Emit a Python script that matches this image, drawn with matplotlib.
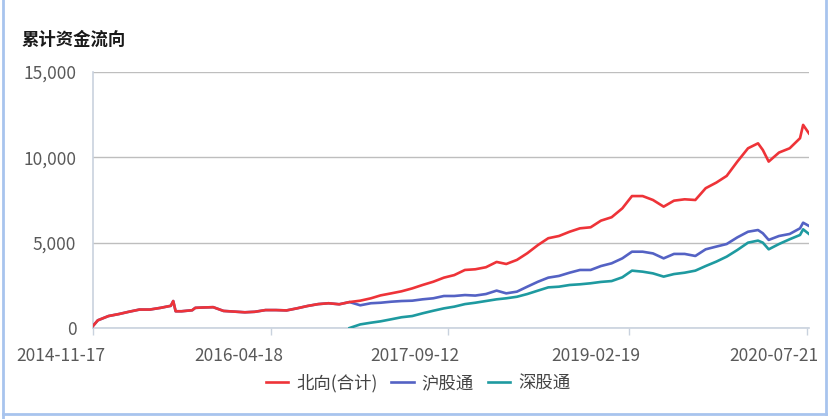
import numpy as np
import pandas as pd
import matplotlib
matplotlib.use("Agg")
import matplotlib.pyplot as plt
import matplotlib.transforms as mtransforms
from matplotlib.lines import Line2D

plt.rcParams['font.family'] = ['Noto Sans CJK SC', 'DejaVu Sans']

# 日期（月度取样，外加几个拐点）
dates = [
    "2014-11-17", "2014-12-01", "2015-01-01", "2015-02-01", "2015-03-01", "2015-04-01",
    "2015-05-01", "2015-06-01", "2015-07-01", "2015-07-08", "2015-07-15", "2015-08-01",
    "2015-09-01", "2015-09-10", "2015-10-01", "2015-11-01", "2015-12-01", "2016-01-01",
    "2016-02-01", "2016-03-01", "2016-04-01", "2016-05-01", "2016-06-01", "2016-07-01",
    "2016-08-01", "2016-09-01", "2016-10-01", "2016-11-01", "2016-12-01", "2017-01-01",
    "2017-02-01", "2017-03-01", "2017-04-01", "2017-05-01", "2017-06-01", "2017-07-01",
    "2017-08-01", "2017-09-01", "2017-10-01", "2017-11-01", "2017-12-01", "2018-01-01",
    "2018-02-01", "2018-03-01", "2018-04-01", "2018-05-01", "2018-06-01", "2018-07-01",
    "2018-08-01", "2018-09-01", "2018-10-01", "2018-11-01", "2018-12-01", "2019-01-01",
    "2019-02-01", "2019-03-01", "2019-04-01", "2019-05-01", "2019-06-01", "2019-07-01",
    "2019-08-01", "2019-09-01", "2019-10-01", "2019-11-01", "2019-12-01", "2020-01-01",
    "2020-02-01", "2020-03-01", "2020-03-15", "2020-04-01", "2020-05-01", "2020-06-01",
    "2020-07-01", "2020-07-10", "2020-07-27",
]

north = [
    120, 450, 700, 820, 950, 1080,
    1080, 1180, 1300, 1580, 980, 980,
    1040, 1180, 1200, 1220, 1000, 960,
    920, 950, 1050, 1050, 1030, 1150,
    1290, 1400, 1450, 1390, 1520, 1600,
    1740, 1910, 2030, 2150, 2320, 2520,
    2710, 2950, 3100, 3400, 3440, 3560,
    3870, 3750, 3990, 4380, 4860, 5260,
    5390, 5640, 5840, 5900, 6290, 6490,
    7010, 7730, 7730, 7500, 7110, 7460,
    7540, 7500, 8190, 8520, 8910, 9750,
    10530, 10820, 10430, 9750, 10280, 10530,
    11120, 11900, 11400,
]

sh = [
    120, 450, 700, 820, 950, 1080,
    1080, 1180, 1300, 1580, 980, 980,
    1040, 1180, 1200, 1220, 1000, 960,
    920, 950, 1050, 1050, 1030, 1150,
    1290, 1400, 1450, 1390, 1520, 1330,
    1450, 1480, 1540, 1580, 1600, 1680,
    1740, 1875, 1875, 1930, 1900, 1990,
    2190, 2030, 2130, 2420, 2710, 2950,
    3050, 3240, 3400, 3400, 3630, 3790,
    4080, 4470, 4470, 4370, 4080, 4340,
    4340, 4220, 4610, 4770, 4920, 5310,
    5640, 5740, 5550, 5160, 5390, 5510,
    5840, 6170, 5980,
]

sz = [
    None, None, None, None, None, None,
    None, None, None, None, None, None,
    None, None, None, None, None, None,
    None, None, None, None, None, None,
    None, None, None, None, 0, 210,
    310, 390, 510, 630, 700, 860,
    1010, 1150, 1250, 1400, 1480, 1580,
    1680, 1740, 1830, 1990, 2190, 2380,
    2420, 2520, 2560, 2620, 2700, 2750,
    2970, 3360, 3300, 3200, 3010, 3160,
    3240, 3360, 3630, 3890, 4180, 4570,
    5000, 5120, 5000, 4610, 4920, 5200,
    5450, 5780, 5510,
]

tick_labels = ["2014-11-17", "2016-04-18", "2017-09-12", "2019-02-19", "2020-07-21"]
series_names = ["北向(合计)", "沪股通", "深股通"]
colors = ["#EE3338", "#5462C4", "#1E9AA0"]

x = pd.to_datetime(dates)
ys = [np.array(north, dtype=float),
      np.array(sh, dtype=float),
      np.array([np.nan if v is None else v for v in sz], dtype=float)]

fig = plt.figure(figsize=(8.31, 4.19), dpi=100)
ax = fig.add_axes([0.1119, 0.2172, 0.8616, 0.611])

# 深股通先画，红线在最上层
for i in [2, 1, 0]:
    ax.plot(x, ys[i], color=colors[i], lw=1.9, label=series_names[i], zorder=3 + (2 - i))

ax.set_ylim(0, 15000)
ax.set_yticks([0, 5000, 10000, 15000])
ax.yaxis.set_major_formatter(matplotlib.ticker.FuncFormatter(lambda v, p: f"{int(v):,}"))
ax.set_xlim(pd.Timestamp("2014-11-17"), pd.Timestamp("2020-07-27"))
ax.set_xticks(pd.to_datetime(tick_labels))
ax.set_xticklabels(tick_labels)

ax.grid(axis='y', color='#BEBEBE', lw=1)
ax.set_axisbelow(True)
for s in ['top', 'right']:
    ax.spines[s].set_visible(False)
ax.spines['left'].set_color('#C9D2DE')
ax.spines['bottom'].set_color('#C9D2DE')
ax.spines['left'].set_linewidth(1.2)
ax.spines['bottom'].set_linewidth(1.2)

ax.tick_params(axis='y', length=0, pad=12, labelsize=12.5, labelcolor='#595959')
ax.tick_params(axis='x', length=5, width=1, color='#C9D2DE', pad=9,
               labelsize=12.5, labelcolor='#595959')

# 日期标签整体向左偏移（右端略超过刻度）
shift = mtransforms.ScaledTranslation(12 / 100, 0, fig.dpi_scale_trans)
for lbl in ax.get_xticklabels():
    lbl.set_horizontalalignment('right')
    lbl.set_transform(lbl.get_transform() + shift)

fig.text(22 / 831, 1 - 40 / 419, "累计资金流向", fontsize=12.5, fontweight='bold',
         color='#1A1A1A', va='center', ha='left')

handles, labels = ax.get_legend_handles_labels()
order = [2, 1, 0]
fig.legend([handles[k] for k in order], [labels[k] for k in order],
           loc='center', bbox_to_anchor=(0.503, 1 - 383 / 419), ncol=3, frameon=False,
           fontsize=12.5, handlelength=1.3, handletextpad=0.45, columnspacing=0.8,
           labelcolor='#444444')

# 外框（左、右、下）
bc = '#A8C4EE'
fig.add_artist(Line2D([2.5 / 831, 2.5 / 831], [0, 1], color=bc, lw=2, transform=fig.transFigure))
fig.add_artist(Line2D([826 / 831, 826 / 831], [1 - 414 / 419, 1], color=bc, lw=2, transform=fig.transFigure))
fig.add_artist(Line2D([2.5 / 831, 826 / 831], [1 - 414 / 419, 1 - 414 / 419], color=bc, lw=2,
                      transform=fig.transFigure))

fig.savefig("out.png", dpi=100)
